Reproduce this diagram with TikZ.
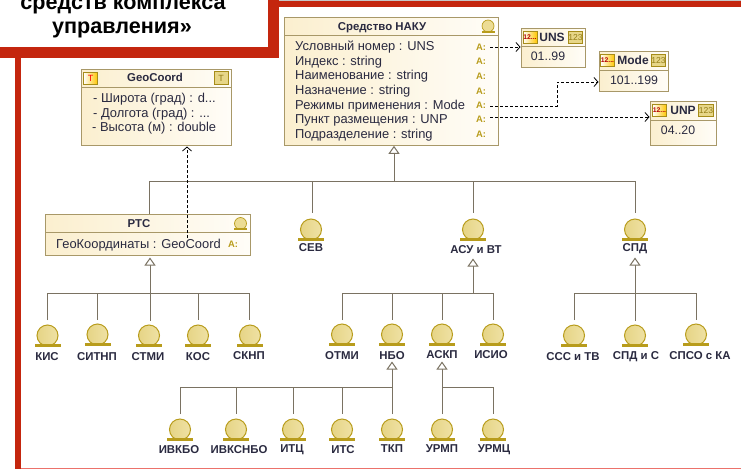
\documentclass[tikz,border=0pt]{standalone}
\usepackage{fontspec}
\setmainfont{Liberation Sans}
\usetikzlibrary{arrows.meta,calc}
\definecolor{redframe}{HTML}{C4260E}
\definecolor{boxedge}{HTML}{A89868}
\definecolor{creamL}{HTML}{FBEFCF}
\definecolor{creamR}{HTML}{FFFDF8}
\definecolor{gold}{HTML}{B89C1C}
\definecolor{goldfill}{HTML}{ECDC94}
\definecolor{connc}{HTML}{7A7262}
\definecolor{inktext}{HTML}{2A2A40}
\tikzset{
  classbox/.style={draw=boxedge,line width=1.1pt,left color=creamL,right color=creamR,anchor=north west,inner sep=0pt},
  divider/.style={draw=boxedge,line width=0.9pt},
  attrtext/.style={anchor=base west,inner sep=0pt,font=\fontsize{12.9}{13}\selectfont,text=inktext},
  titletext/.style={anchor=base,inner sep=0pt,font=\fontsize{11.4}{12}\selectfont\bfseries,text=inktext},
  valtext/.style={anchor=base,inner sep=0pt,font=\fontsize{12.3}{13}\selectfont,text=inktext},
  typetitle/.style={anchor=base,inner sep=0pt,font=\fontsize{12}{12}\selectfont\bfseries,text=inktext},
  actorlabel/.style={anchor=center,inner sep=0pt,font=\fontsize{11.4}{12}\selectfont\bfseries,text=inktext},
  actorhead/.style={circle,draw=gold,line width=1pt,left color=goldfill!88!gold,right color=goldfill!85!white,minimum size=21pt,inner sep=0pt},
  conn/.style={draw=connc,line width=1pt},
  gentip/.style={conn,-{Triangle[open,fill=white,length=8pt,width=11pt]}},
  deptip/.style={draw=black,line width=0.8pt,densely dashed,-{Straight Barb[length=4pt,width=9pt]}},
  attricon/.style={inner sep=0pt,font=\fontsize{9.4}{10}\selectfont\bfseries,text=gold},
  kindicon/.style={draw=gold!90!black,line width=0.8pt,fill=goldfill!90!gold,minimum width=14pt,minimum height=12.5pt,inner sep=0pt,font=\fontsize{8.6}{9}\selectfont,text=gold!80!black},
  numicon/.style={draw=gold!90!black,line width=0.8pt,left color=white,right color=orange!45!yellow,minimum width=14pt,minimum height=12pt,inner sep=0pt,font=\fontsize{6.8}{8}\selectfont\bfseries,text=red!70!black},
}
% name, x, top y of the head, label x, label y, label
\newcommand{\actorfig}[6]{%
  \node[actorhead] (#1) at (#2,#3+10.5) {};
  \fill[gold] (#2-13,#3+18.5) rectangle (#2+13,#3+22);
  \node[actorlabel] (#1-l) at (#4,#5) {#6};
}
\newcommand{\smallactor}[3]{%
  \node[circle,draw=gold,line width=0.7pt,fill=goldfill,minimum size=12pt,inner sep=0pt] (#1) at (#2,#3) {};
  \fill[gold] (#2-6.5,#3+4.5) rectangle (#2+6.5,#3+6.5);
}
\begin{document}
\begin{tikzpicture}[x=1pt,y=-1pt]
\useasboundingbox (0,0) rectangle (741,469);
\fill[white] (0,0) rectangle (741,469);
% frame
\fill[gray!45] (279,0) rectangle (741,1);
\fill[redframe] (279,1) rectangle (741,7);
\fill[redframe] (15,58) rectangle (21,469);
\fill[redframe] (268,0) rectangle (279,58);
\fill[redframe] (0,47) rectangle (279,58);
\fill[red!45!redframe!60!white] (21,467.6) rectangle (741,468.8);
\node[inner sep=0pt,font=\fontsize{21.6}{24}\selectfont\bfseries,anchor=base] (ttlA) at (123,9.5) {средств комплекса};
\node[inner sep=0pt,font=\fontsize{21.6}{24}\selectfont\bfseries,anchor=base] (ttlB) at (122,33.5) {управления»};

% class boxes
\node[classbox,minimum width=150pt,minimum height=76pt] (geo) at (81,69) {};
\node[classbox,minimum width=214pt,minimum height=128pt] (naku) at (284,17) {};
\node[classbox,minimum width=205pt,minimum height=41pt] (rts) at (45,214) {};
\node[classbox,minimum width=64pt,minimum height=39pt] (uns) at (521,28) {};
\node[classbox,minimum width=69pt,minimum height=40pt] (mode) at (599,51) {};
\node[classbox,minimum width=66pt,minimum height=44pt] (unp) at (650,101) {};
\draw[divider] (81,87) -- (231,87);
\draw[divider] (284,35) -- (498,35);
\draw[divider] (45,232) -- (250,232);
\draw[divider] (521,46) -- (585,46);
\draw[divider] (599,70) -- (668,70);
\draw[divider] (650,120) -- (716,120);

% GeoCoord
\node[titletext] (geoT) at (155,81.5) {GeoCoord};
\node[numicon,font=\fontsize{9}{9}\selectfont,text=red] (geoI) at (90.5,78.5) {T};
\node[kindicon,font=\fontsize{9}{9}\selectfont] (geoK) at (221,78) {T};
\node[attrtext] (geo1) at (93,102) {- Широта (град) : d...};
\node[attrtext] (geo2) at (93,117) {- Долгота (град) : ...};
\node[attrtext] (geo3) at (92,131) {- Высота (м) : double};

% NAKU
\node[titletext] (nakuT) at (382,30) {Средство НАКУ};
\smallactor{nakuA}{488}{26}
\node[attrtext] (n1) at (295,50.5) {Условный номер : UNS};
\node[attrtext] (n2) at (295,65) {Индекс : string};
\node[attrtext] (n3) at (295,79.5) {Наименование : string};
\node[attrtext] (n4) at (295,94) {Назначение : string};
\node[attrtext] (n5) at (295,109) {Режимы применения : Mode};
\node[attrtext] (n6) at (295,123.5) {Пункт размещения : UNP};
\node[attrtext] (n7) at (295,138) {Подразделение : string};
\node[attricon] (a1) at (481,47) {A:};
\node[attricon] (a2) at (481,61) {A:};
\node[attricon] (a3) at (481,76) {A:};
\node[attricon] (a4) at (481,91) {A:};
\node[attricon] (a5) at (481,105) {A:};
\node[attricon] (a6) at (481,119) {A:};
\node[attricon] (a7) at (481,134) {A:};

% RTS
\node[titletext] (rtsT) at (139,227) {РТС};
\smallactor{rtsA}{240.5}{223.5}
\node[attrtext] (r1) at (56,248) {ГеоКоординаты : GeoCoord};
\node[attricon] (ra) at (233,244) {A:};

% enumerations
\node[numicon] (unsI) at (530,37) {12...};
\node[typetitle] (unsT) at (552,41) {UNS};
\node[kindicon] (unsK) at (575.5,37.5) {123};
\node[valtext] (unsV) at (548,60.5) {01..99};
\node[numicon] (modeI) at (607.5,60) {12...};
\node[typetitle] (modeT) at (633,64) {Mode};
\node[kindicon] (modeK) at (658.5,60.5) {123};
\node[valtext] (modeV) at (634,84.5) {101..199};
\node[numicon] (unpI) at (659.5,110.5) {12...};
\node[typetitle] (unpT) at (683,114) {UNP};
\node[kindicon] (unpK) at (706,110.5) {123};
\node[valtext] (unpV) at (678,134.5) {04..20};

% actors
\actorfig{sev}{311}{219}{311}{248}{СЕВ}
\actorfig{asu}{473}{219}{476}{250}{АСУ и ВТ}
\actorfig{spd}{635}{219}{635}{249}{СПД}
\actorfig{kis}{47.5}{325}{47}{357}{КИС}
\actorfig{sit}{97.5}{324}{97}{357}{СИТНП}
\actorfig{stm}{149}{325}{148}{357}{СТМИ}
\actorfig{kos}{198}{325}{198}{357}{КОС}
\actorfig{skn}{250}{325}{249}{356}{СКНП}
\actorfig{otm}{342}{324}{342}{356}{ОТМИ}
\actorfig{nbo}{392}{324}{392}{356}{НБО}
\actorfig{ask}{442}{324}{442}{355}{АСКП}
\actorfig{isi}{493}{324}{491}{355}{ИСИО}
\actorfig{sss}{574}{325}{573}{357}{ССС и ТВ}
\actorfig{spc}{635}{325}{636}{357}{СПД и С}
\actorfig{sps}{696}{324}{700}{356}{СПСО с КА}
\actorfig{ivk}{180}{419}{179}{450}{ИВКБО}
\actorfig{ivs}{236}{419}{239}{450}{ИВКСНБО}
\actorfig{itc}{293}{419}{292}{450}{ИТЦ}
\actorfig{its}{342}{419}{343}{450}{ИТС}
\actorfig{tkp}{392}{419}{392}{449}{ТКП}
\actorfig{urp}{442}{419}{442}{449}{УРМП}
\actorfig{urc}{493}{419}{494}{450}{УРМЦ}

% junction coordinates
\coordinate (nakuG) at (394,145.8);
\coordinate (rtsG) at (150,257.5);
\coordinate (asuG) at (473,258.5);
\coordinate (spdG) at (635,257.5);
\coordinate (nboG) at (392,361.5);
\coordinate (askG) at (442,361.5);
\coordinate (geoG) at (187,146.5);
\coordinate (rtsDep) at (187,238);
\coordinate (uA) at (490,47);
\coordinate (uB) at (520.5,47);
\coordinate (mA) at (490,106);
\coordinate (mB) at (598.5,82);
\coordinate (pA) at (490,117);
\coordinate (pB) at (649.5,117);

% generalisation trees
\draw[conn] (149,214) -- (149,181) -- (635,181) -- (635,213);
\draw[conn] (312,181) -- (312,213);
\draw[conn] (473,181) -- (473,213);
\draw[gentip] (394,181) -- (nakuG);

\draw[conn] (47,320) -- (47,293.5) -- (249,293.5) -- (249,320);
\draw[conn] (97.5,293.5) -- (97.5,320);
\draw[conn] (198,293.5) -- (198,320);
\draw[gentip] (150,320.5) -- (rtsG);

\draw[conn] (342,320) -- (342,293.5) -- (493,293.5) -- (493,320);
\draw[conn] (392,293.5) -- (392,320);
\draw[conn] (442,293.5) -- (442,320);
\draw[gentip] (473,293.5) -- (asuG);

\draw[conn] (574,320) -- (574,293.5) -- (696,293.5) -- (696,320);
\draw[gentip] (635,320.5) -- (spdG);

\draw[conn] (180,414) -- (180,387) -- (392,387);
\draw[conn] (236,387) -- (236,414);
\draw[conn] (293,387) -- (293,414);
\draw[conn] (342,387) -- (342,414);
\draw[gentip] (392,414) -- (nboG);
\draw[conn] (442,387) -- (493,387) -- (493,414);
\draw[gentip] (442,414) -- (askG);

% dependencies
\draw[deptip] (rtsDep) -- (geoG);
\draw[deptip] (uA) -- (uB);
\draw[deptip] (mA) -- (557,106) -- (557,82) -- (mB);
\draw[deptip] (pA) -- (pB);
\end{tikzpicture}
\end{document}
